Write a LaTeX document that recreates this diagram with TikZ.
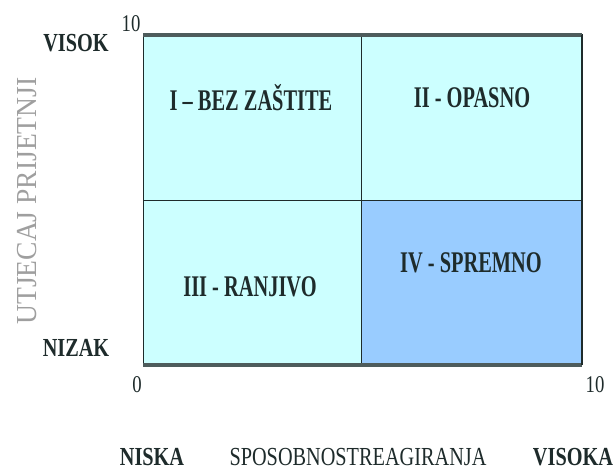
\documentclass[tikz,border=0pt]{standalone}
\usepackage{fontspec}
\setmainfont{Liberation Serif}
\usepackage{graphicx}
\newcommand{\narrow}[2][0.78]{\scalebox{#1}[1]{#2}}
\definecolor{paleq}{HTML}{CCFFFF}
\definecolor{blueq}{HTML}{99CCFF}
\definecolor{inkq}{HTML}{1E2B2B}
\definecolor{rimq}{HTML}{4E5C5C}

\begin{document}
\begin{tikzpicture}[x=1pt, y=-1pt,
  quad/.style={font=\fontsize{30}{34}\selectfont\bfseries, text=inkq},
  tag/.style={font=\fontsize{26}{30}\selectfont\bfseries, text=inkq},
  axl/.style={font=\fontsize{26}{30}\selectfont, text=inkq},
  num/.style={font=\fontsize{24}{28}\selectfont, text=inkq}]
  \useasboundingbox (0,0) rectangle (614,470);
  \coordinate (tl) at (143,35);
  \coordinate (br) at (582,365);
  \coordinate (m) at (361,200);
  \fill[paleq] (tl) rectangle (br);
  \fill[blueq] (m) rectangle (br);
  \draw[inkq, line width=0.8pt] (m |- tl) -- (m |- br);
  \draw[inkq, line width=0.8pt] (tl |- m) -- (br |- m);
  \draw[inkq, line width=1pt] (tl) rectangle (br);
  \draw[rimq, line width=3.5pt] (tl) -- (br |- tl);
  \draw[rimq, line width=3.5pt] (tl |- br) -- (br);
  \draw[inkq, line width=2.5pt] (br |- tl) -- (br);
  \node[quad] (q1) at (251,98) {\narrow[0.68]{I -- BEZ ZAŠTITE}};
  \node[quad] (q2) at (472,98) {\narrow[0.68]{II - OPASNO}};
  \node[quad] (q3) at (250,287) {\narrow[0.68]{III - RANJIVO}};
  \node[quad] (q4) at (471,263) {\narrow[0.68]{IV - SPREMNO}};
  \node[tag] (hi) at (76,43) {\narrow{VISOK}};
  \node[tag] (lo) at (76,348) {\narrow{NIZAK}};
  \node[num] (ytop) at (131,24) {\narrow{10}};
  \node[num] (xzero) at (137,385) {\narrow{0}};
  \node[num] (xtop) at (595,385) {\narrow{10}};
  \node[tag] (xlo) at (152,457) {\narrow{NISKA}};
  \node[axl] (xname) at (358,457) {\narrow{SPOSOBNOSTREAGIRANJA}};
  \node[tag] (xhi) at (573,457) {\narrow{VISOKA}};
  \node[font=\fontsize{29}{32}\selectfont, text=gray!75, rotate=90] (yname) at (27,201)
    {\scalebox{0.95}[1]{UTJECAJ PRIJETNJI}};
\end{tikzpicture}
\end{document}
